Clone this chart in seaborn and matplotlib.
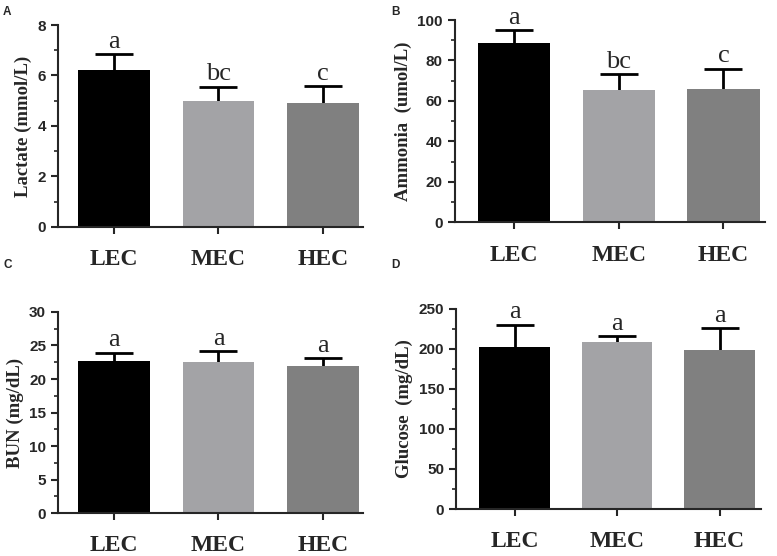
import numpy as np
import seaborn as sns
import matplotlib.pyplot as plt

# Données
groupes = ["LEC", "MEC", "HEC"]
couleurs = ["#000000", "#a3a3a7", "#808080"]

lactate_moy = [6.2, 5.0, 4.9]
lactate_sd = [0.65, 0.55, 0.67]
lactate_lettres = ["a", "bc", "c"]

ammonia_moy = [88.5, 65.4, 65.9]
ammonia_sd = [6.5, 7.9, 10.0]
ammonia_lettres = ["a", "bc", "c"]

bun_moy = [22.7, 22.5, 22.0]
bun_sd = [1.2, 1.6, 1.1]
bun_lettres = ["a", "a", "a"]

glucose_moy = [202, 209, 199]
glucose_sd = [28, 6.5, 27]
glucose_lettres = ["a", "a", "a"]

sns.set_style("ticks")
serif = ["Liberation Serif", "DejaVu Serif"]
sans = ["Liberation Sans", "DejaVu Sans"]


def panneau(fig, rect, moy, sd, lettres, ylabel, ymax, ypas, xlim, panel, panel_xy):
    ax = fig.add_axes(rect)
    sns.barplot(x=groupes, y=moy, hue=groupes, palette=couleurs, legend=False,
                width=0.69, errorbar=None, linewidth=0, ax=ax, zorder=2)
    # barres d'erreur derrière les barres : seule la partie haute est visible
    ax.errorbar(range(len(groupes)), moy, yerr=sd, fmt="none", ecolor="black",
                elinewidth=2, capsize=14, capthick=2, zorder=1)
    for i, (m, s, l) in enumerate(zip(moy, sd, lettres)):
        ax.annotate(l, (i, m + s), xytext=(0, 1), textcoords="offset points",
                    ha="center", va="bottom", fontsize=19, family=serif)
    ax.set_xlim(*xlim)
    ax.set_ylim(0, ymax)
    ax.set_yticks(np.arange(0, ymax + ypas / 2, ypas))
    ax.set_yticks(np.arange(ypas / 2, ymax, ypas), minor=True)
    sns.despine(ax=ax)
    for sp in ["left", "bottom"]:
        ax.spines[sp].set_linewidth(1.5)
    ax.tick_params(axis="y", which="major", length=5, width=1.5, labelsize=11)
    ax.tick_params(axis="y", which="minor", length=3, width=1.2)
    ax.tick_params(axis="x", length=5, width=1.5, pad=11)
    for t in ax.get_yticklabels():
        t.set_fontweight("bold")
        t.set_family(sans)
    for t in ax.get_xticklabels():
        t.set_fontweight("bold")
        t.set_family(serif)
        t.set_fontsize(17)
    ax.set_ylabel(ylabel, fontsize=13.5, fontweight="bold", family=serif, labelpad=4)
    fig.text(panel_xy[0], panel_xy[1], panel, fontsize=8.5, fontweight="bold",
             family=sans, ha="left", va="top")
    return ax


fig = plt.figure(figsize=(7.77, 5.56), dpi=100)

panneau(fig, [0.0746, 0.592, 0.393, 0.363], lactate_moy, lactate_sd, lactate_lettres,
        "Lactate (mmol/L)", 8, 2, (-0.54, 2.39), "A", (0.004, 0.99))
panneau(fig, [0.585, 0.600, 0.400, 0.364], ammonia_moy, ammonia_sd, ammonia_lettres,
        "Ammonia  (umol/L)", 100, 20, (-0.57, 2.40), "B", (0.503, 0.99))
panneau(fig, [0.0746, 0.077, 0.393, 0.362], bun_moy, bun_sd, bun_lettres,
        "BUN (mg/dL)", 30, 5, (-0.54, 2.39), "C", (0.004, 0.535))
panneau(fig, [0.587, 0.0845, 0.392, 0.360], glucose_moy, glucose_sd, glucose_lettres,
        "Glucose  (mg/dL)", 250, 50, (-0.57, 2.40), "D", (0.503, 0.535))

fig.savefig("out.png", dpi=100)
